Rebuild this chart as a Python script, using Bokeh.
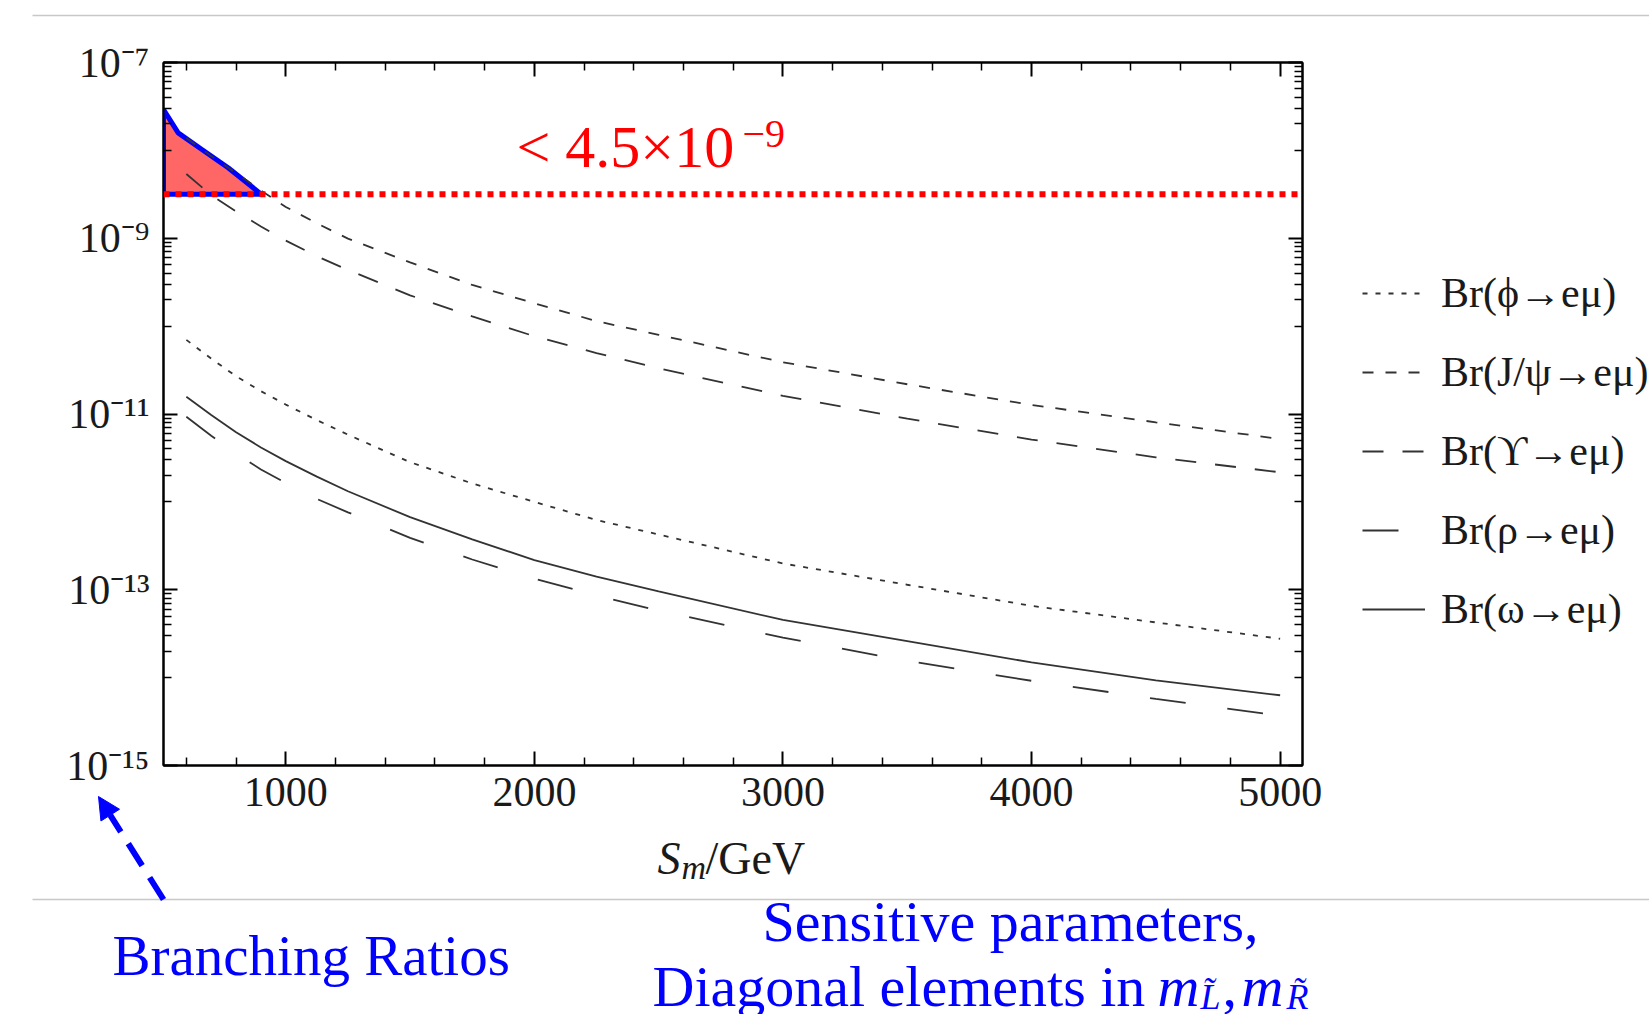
from bokeh.plotting import figure
from bokeh.models import (Range1d, FixedTicker, LinearAxis, LogAxis, Legend, LegendItem,
                          Label, Span, Arrow, NormalHead, CustomJSTickFormatter, GridBox)
from bokeh.embed import file_html
from bokeh.resources import INLINE

# ---------------- data ----------------
mass = [600, 700, 800, 900, 1000, 1125, 1250, 1500, 1750, 2000, 2250, 2500, 3000, 3500,
        4000, 4500, 5000]
br_jpsi = [1.38e-8, 8.6e-9, 5.52e-9, 3.49e-9, 2.27e-9, 1.48e-9, 9.9e-10, 5.31e-10, 2.94e-10,
           1.82e-10, 1.14e-10, 7.96e-11, 3.88e-11, 2.18e-11, 1.27e-11, 8.04e-12, 5.2e-12]
br_upsilon = [5.38e-9, 3.10e-9, 2.02e-9, 1.36e-9, 9.4e-10, 6.24e-10, 4.36e-10, 2.24e-10,
              1.29e-10, 7.67e-11, 4.93e-11, 3.31e-11, 1.61e-11, 8.85e-12, 5.12e-12, 3.21e-12,
              2.17e-12]
br_phi = [6.98e-11, 4.27e-11, 2.69e-11, 1.82e-11, 1.28e-11, 8.51e-12, 5.82e-12, 2.83e-12,
          1.62e-12, 1.0e-12, 6.22e-13, 4.25e-13, 1.99e-13, 1.14e-13, 6.56e-14, 4.25e-14,
          2.77e-14]
br_omega = [1.57e-11, 9.75e-12, 6.21e-12, 4.16e-12, 2.91e-12, 1.94e-12, 1.32e-12, 6.70e-13,
            3.75e-13, 2.17e-13, 1.41e-13, 9.6e-14, 4.53e-14, 2.61e-14, 1.49e-14, 9.3e-15,
            6.3e-15]
br_rho = [9.3e-12, 5.66e-12, 3.54e-12, 2.34e-12, 1.64e-12, 1.08e-12, 7.6e-13, 3.9e-13,
          2.21e-13, 1.34e-13, 8.61e-14, 5.79e-14, 2.85e-14, 1.55e-14, 9.2e-15, 5.73e-15,
          3.69e-15]

legend_labels = ["Br(ϕ→eμ)", "Br(J/ψ→eμ)", "Br(ϒ→eμ)", "Br(ρ→eμ)", "Br(ω→eμ)"]

limit_value = 3.16e-9          # red dotted bound line
limit_text = "< 4.5×10"
limit_text_exp = "−9"

shade_x = [508, 508, 567, 661, 768, 902]
shade_y = [3.16e-9, 2.92e-8, 1.58e-8, 1.03e-8, 6.34e-9, 3.16e-9]

x_major = [1000, 2000, 3000, 4000, 5000]
x_minor = [600, 800, 1200, 1400, 1600, 1800, 2200, 2400, 2600, 2800, 3200, 3400, 3600,
           3800, 4200, 4400, 4600, 4800]
y_major = [1e-15, 1e-13, 1e-11, 1e-9, 1e-7]
y_major_labels = ["10⁻¹⁵", "10⁻¹³", "10⁻¹¹", "10⁻⁹", "10⁻⁷"]
y_major_js_keys = ["1e-15", "1e-13", "1e-11", "1e-9", "1e-7"]
y_minor = [k * 10.0 ** e for e in (-8, -10, -12, -14) for k in range(1, 10)]

x_label_parts = ["S", "m", "/GeV"]
bottom_left_text = "Branching Ratios"
bottom_right_line1 = "Sensitive parameters,"
bottom_right_line2 = "Diagonal elements in "

W, H = 1649, 1014

# ---------------- main chart ----------------
p = figure(width=W, height=H, x_range=Range1d(508, 5090), y_range=Range1d(1e-15, 1e-7),
           y_axis_type="log", output_backend="svg", toolbar_location=None,
           min_border_left=163, min_border_right=347, min_border_top=62, min_border_bottom=249)
p.frame_align = False
p.xgrid.grid_line_color = None
p.ygrid.grid_line_color = None
p.outline_line_color = "black"
p.outline_line_width = 2
p.background_fill_color = "white"
p.border_fill_color = "white"

bottom_ax = p.below[0]
left_ax = p.left[0]

xt = FixedTicker(ticks=x_major, minor_ticks=x_minor)
yt = FixedTicker(ticks=y_major, minor_ticks=y_minor)
blank = CustomJSTickFormatter(code="return ''")

top_ax = LinearAxis(ticker=xt, formatter=blank)
right_ax = LogAxis(ticker=yt, formatter=blank)
p.add_layout(top_ax, "above")
p.add_layout(right_ax, "right")

bottom_ax.ticker = xt
left_ax.ticker = yt
overrides = {}
for v, k, lab_ in zip(y_major, y_major_js_keys, y_major_labels):
    overrides[v] = lab_
    overrides[k] = lab_
left_ax.major_label_overrides = overrides

for ax in [bottom_ax, left_ax, top_ax, right_ax]:
    ax.axis_line_width = 2
    ax.axis_line_color = "black"
    ax.major_tick_in = 14
    ax.major_tick_out = 0
    ax.minor_tick_in = 8
    ax.minor_tick_out = 0
    ax.major_tick_line_width = 2
    ax.minor_tick_line_width = 1.5
    ax.major_tick_line_color = "black"
    ax.minor_tick_line_color = "black"
    ax.major_label_text_font = "Liberation Serif"
    ax.major_label_text_font_size = "42px"
    ax.major_label_text_color = "#1a1a1a"
bottom_ax.major_label_standoff = 12
left_ax.major_label_standoff = 14

# shaded excluded region + bound line
p.patch(shade_x, shade_y, fill_color="#ff6666", fill_alpha=1.0, line_color="#0000ff", line_width=5)
p.add_layout(Span(location=limit_value, dimension="width", line_color="#ff0000",
                  line_width=6, line_dash="6 6"))

# curves
col = "#333333"
styles = [("5 8", br_phi), ("11 12", br_jpsi), ("21 19", br_upsilon), ("36 42", br_rho),
          ("solid", br_omega)]
for dash, series in styles:
    p.line(mass, series, line_color=col, line_width=1.8, line_dash=dash)

# ---------------- transparent overlay for texts outside the frame ----------------
ov = figure(width=W, height=H, x_range=Range1d(0, W), y_range=Range1d(H, 0),
            output_backend="svg", toolbar_location=None, min_border=0,
            x_axis_location=None, y_axis_location=None)
ov.frame_align = False
ov.grid.visible = False
ov.outline_line_color = None
ov.background_fill_alpha = 0
ov.border_fill_alpha = 0

# legend (hidden proxy renderers carrying the line styles)
proxies = [ov.line(mass, series, line_color=col, line_width=1.8, line_dash=dash, visible=False)
           for dash, series in styles]
legend = Legend(items=[LegendItem(label=l, renderers=[r]) for l, r in zip(legend_labels, proxies)],
                location=(1362, H - 633), glyph_width=63, glyph_height=48, label_height=48,
                spacing=31, padding=0, margin=0, label_standoff=16,
                label_text_font="Liberation Serif", label_text_font_size="42px",
                label_text_color="#1a1a1a", background_fill_alpha=0, border_line_color=None,
                inactive_fill_alpha=0)
ov.add_layout(legend)


def lab(text, cx, cy, size, color="#1a1a1a", style="normal", font="Liberation Serif"):
    ov.add_layout(Label(x=cx, y=cy, text=text, text_font=font, text_font_size=f"{size}px",
                        text_color=color, text_font_style=style, text_baseline="alphabetic",
                        text_align="left"))


# bound annotation
lab(limit_text, 516, 146, 60, color="#ff0000")
lab(limit_text_exp, 742, 133, 40, color="#ff0000")

# x-axis title
lab(x_label_parts[0], 657, 858, 46, style="italic")
lab(x_label_parts[1], 681, 867, 34, style="italic")
lab(x_label_parts[2], 705, 858, 46)

# slide texts
blue = "#0000ff"
lab(bottom_left_text, 112, 955, 57, color=blue)
lab(bottom_right_line1, 762, 921, 58, color=blue)
lab(bottom_right_line2, 652, 986, 58, color=blue)
lab("m", 1157, 986, 58, color=blue, style="italic")
lab("L\u0303", 1200, 996, 36, color=blue, style="italic")
lab(",", 1222, 986, 58, color=blue)
lab("m", 1241, 986, 58, color=blue, style="italic")
lab("R\u0303", 1286, 996, 36, color=blue, style="italic")

# separator lines
for cy in (15, 899):
    ov.add_layout(Arrow(start=None, end=None, x_start=32, y_start=cy, x_end=W, y_end=cy,
                        line_color="#c8c8c8", line_width=1.5))

# dashed arrow
ov.add_layout(Arrow(end=NormalHead(size=22, fill_color=blue, line_color=blue),
                    x_start=163, y_start=899, x_end=98, y_end=796,
                    line_color=blue, line_width=6, line_dash="26 14"))

layout = GridBox(children=[(p, 0, 0), (ov, 0, 0)])
open("out.html", "w").write(file_html(layout, INLINE))
